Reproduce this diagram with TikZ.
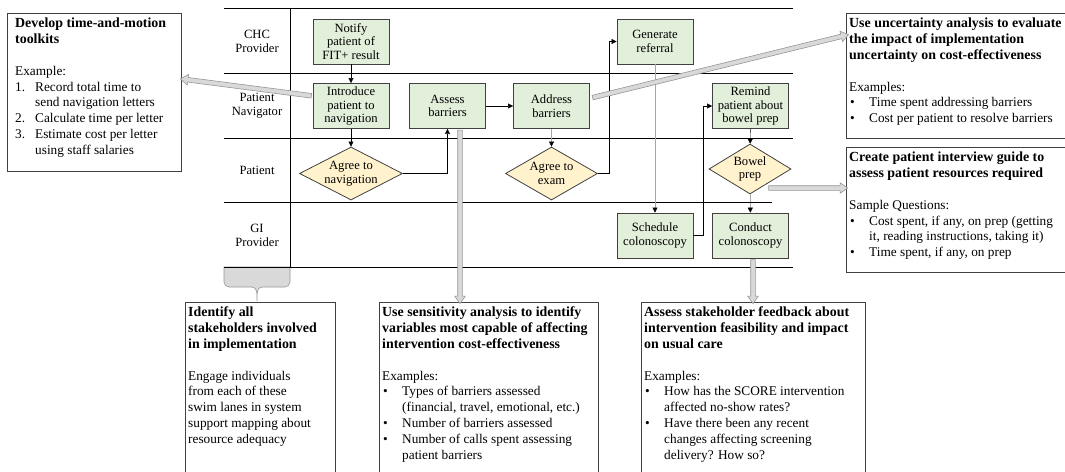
\documentclass[tikz,border=0pt]{standalone}
\usepackage{fontspec}
\setmainfont{Liberation Serif}
\usetikzlibrary{arrows.meta, shapes.geometric, shapes.arrows, calc, positioning}

\definecolor{taskgreen}{RGB}{226,239,218}
\definecolor{decyellow}{RGB}{255,242,204}
\definecolor{blockgray}{RGB}{217,217,217}
\definecolor{blockedge}{RGB}{150,150,150}
\definecolor{edgegray}{RGB}{64,64,64}

\newcommand{\itm}[1]{\makebox[20pt][l]{#1}}
\newcommand{\bul}{\itm{\hspace{1pt}\textbullet}}
\newcommand{\ind}{\hspace*{20pt}}
\newcommand{\ttl}[1]{{\fontsize{13.9}{15.8}\selectfont\bfseries #1}}
\newcommand{\blockarrow}[2]{%
  \path let \p1=($(#2)-(#1)$), \n1={atan2(\y1,\x1)}, \n2={veclen(\x1,\y1)} in
    node[blockarr, minimum height=\n2, rotate=\n1] at ($(#1)!0.5!(#2)$) {};}

\tikzset{
  task/.style={rectangle, draw=edgegray, fill=taskgreen, line width=0.8pt,
    minimum width=76pt, minimum height=45pt, inner sep=0pt, align=center,
    font=\fontsize{12.6}{13.8}\selectfont},
  decision/.style={diamond, draw=edgegray, fill=decyellow, line width=0.8pt,
    inner sep=0pt, align=center, font=\fontsize{12.6}{13.8}\selectfont},
  lane/.style={align=center, font=\fontsize{12.6}{13.8}\selectfont},
  flow/.style={draw=black, -{Triangle[length=5pt,width=5pt]}},
  flowgray/.style={draw=gray!70, -{Triangle[length=5pt,width=5pt,color=black]}},
  laneline/.style={draw=black, line width=0.8pt},
  boxframe/.style={rectangle, draw=edgegray, line width=0.8pt, inner sep=0pt,
    anchor=north west},
  boxtext/.style={anchor=north west, align=left, inner xsep=3pt, inner ysep=5pt,
    font=\fontsize{13.3}{15.8}\selectfont},
  blockarr/.style={single arrow, draw=blockedge, fill=blockgray, line width=0.6pt,
    inner sep=2pt, single arrow head extend=3pt, single arrow tip angle=70}
}

\begin{document}
\begin{tikzpicture}[x=1pt, y=-1pt]
    \useasboundingbox (0,0) rectangle (1065,471);

    % brace under the lanes
    \draw[draw=blockedge, fill=blockgray, line width=0.6pt]
      (224,267) -- (224,282) to[out=-90,in=180] (229,287) -- (252,287)
      to[out=0,in=90] (257,301) to[out=90,in=180] (262,287) -- (285,287)
      to[out=0,in=-90] (290,282) -- (290,267) -- cycle;

    % swim lanes
    \foreach \y in {8,73,138,267}
      \draw[laneline] (224,\y) -- (793,\y);
    \draw[laneline] (224,202) -- (772,202);
    \draw[laneline] (290,8) -- (290,267);

    \node[lane] (chc) at (257,41) {CHC\\Provider};
    \node[lane] (nav) at (257,106) {Patient\\Navigator};
    \node[lane] (pat) at (257,170) {Patient};
    \node[lane] (gi) at (257,235) {GI\\Provider};

    % process steps
    \node[task] (notify) at (351,41.5) {Notify\\patient of\\FIT+ result};
    \node[task] (introduce) at (351,106) {Introduce\\patient to\\navigation};
    \node[task] (assess) at (447.5,106) {Assess\\barriers};
    \node[task] (address) at (551.5,106) {Address\\barriers};
    \node[task] (generate) at (655,41.5) {Generate\\referral};
    \node[task] (remind) at (750.5,106) {Remind\\patient about\\bowel prep};
    \node[task] (schedule) at (655,235.5) {Schedule\\colonoscopy};
    \node[task] (conduct) at (750.5,235.5) {Conduct\\colonoscopy};

    \node[decision, aspect=1.94, minimum width=103pt, minimum height=53pt]
      (agreenav) at (351,173.5) {Agree to\\navigation};
    \node[decision, aspect=1.74, minimum width=92pt, minimum height=53pt]
      (agreeexam) at (551.5,173.5) {Agree to\\exam};
    \node[decision, aspect=1.64, minimum width=82pt, minimum height=50pt]
      (bowel) at (750,169) {Bowel\\prep};

    % connectors
    \draw[flow] (notify) -- (introduce);
    \draw[flow] (introduce) -- (agreenav);
    \draw[flow] (agreenav.east) -| (assess.south);
    \draw[flow] (assess) -- (address);
    \draw[flowgray] (address) -- (agreeexam);
    \draw[flow] (agreeexam.east) -- ++(11,0) |- (generate.west);
    \draw[flowgray] (generate) -- (schedule);
    \draw[flow] (schedule.east) -- ++(10,0) |- (remind.west);
    \draw[flow] (remind) -- (bowel);
    \draw[flow] (bowel) -- (conduct);

    % callout boxes
    \node[boxframe, minimum width=174pt, minimum height=158pt] (devbox) at (7,13) {};
    \node[boxtext, inner xsep=8pt] (devtext) at (devbox.north west)
      {\ttl{Develop time-and-motion}\\\ttl{toolkits}\\[15.8pt]
       Example:\\
       \itm{1.}Record total time to\\\ind send navigation letters\\
       \itm{2.}Calculate time per letter\\
       \itm{3.}Estimate cost per letter\\\ind using staff salaries};

    \node[boxframe, minimum width=224pt, minimum height=125pt] (uncbox) at (846,13) {};
    \node[boxtext] (unctext) at (uncbox.north west)
      {\ttl{Use uncertainty analysis to evaluate}\\
       \ttl{the impact of implementation}\\
       \ttl{uncertainty on cost-effectiveness}\\[15.8pt]
       Examples:\\
       \bul Time spent addressing barriers\\
       \bul Cost per patient to resolve barriers};

    \node[boxframe, minimum width=224pt, minimum height=125pt] (intbox) at (846,147) {};
    \node[boxtext] (inttext) at (intbox.north west)
      {\ttl{Create patient interview guide to}\\
       \ttl{assess patient resources required}\\[15.8pt]
       Sample Questions:\\
       \bul Cost spent, if any, on prep (getting\\
       \ind it, reading instructions, taking it)\\
       \bul Time spent, if any, on prep};

    \node[boxframe, minimum width=150pt, minimum height=180pt] (idbox) at (185,302) {};
    \node[boxtext] (idtext) at (idbox.north west)
      {\ttl{Identify all}\\
       \ttl{stakeholders involved}\\
       \ttl{in implementation}\\[15.8pt]
       Engage individuals\\
       from each of these\\
       swim lanes in system\\
       support mapping about\\
       resource adequacy};

    \node[boxframe, minimum width=219pt, minimum height=180pt] (sensbox) at (379,302) {};
    \node[boxtext] (senstext) at (sensbox.north west)
      {\ttl{Use sensitivity analysis to identify}\\
       \ttl{variables most capable of affecting}\\
       \ttl{intervention cost-effectiveness}\\[15.8pt]
       Examples:\\
       \bul Types of barriers assessed\\
       \ind (financial, travel, emotional, etc.)\\
       \bul Number of barriers assessed\\
       \bul Number of calls spent assessing\\
       \ind patient barriers};

    \node[boxframe, minimum width=224pt, minimum height=180pt] (fbbox) at (641,302) {};
    \node[boxtext] (fbtext) at (fbbox.north west)
      {\ttl{Assess stakeholder feedback about}\\
       \ttl{intervention feasibility and impact}\\
       \ttl{on usual care}\\[15.8pt]
       Examples:\\
       \bul How has the SCORE intervention\\
       \ind affected no-show rates?\\
       \bul Have there been any recent\\
       \ind changes affecting screening\\
       \ind delivery? How so?};

    % block arrows to the boxes
    \coordinate (introout) at (313,96);
    \coordinate (devin) at (182,79);
    \coordinate (addrout) at (591,98);
    \coordinate (uncin) at (847,35);
    \coordinate (bowelout) at (767,188);
    \coordinate (intin) at (846,188);
    \coordinate (assessout) at (460,128.5);
    \coordinate (sensin) at (460,302);
    \coordinate (conductout) at (753,258);
    \coordinate (fbin) at (753,302);
    \blockarrow{introout}{devin}
    \blockarrow{addrout}{uncin}
    \blockarrow{bowelout}{intin}
    \blockarrow{assessout}{sensin}
    \blockarrow{conductout}{fbin}
\end{tikzpicture}
\end{document}
